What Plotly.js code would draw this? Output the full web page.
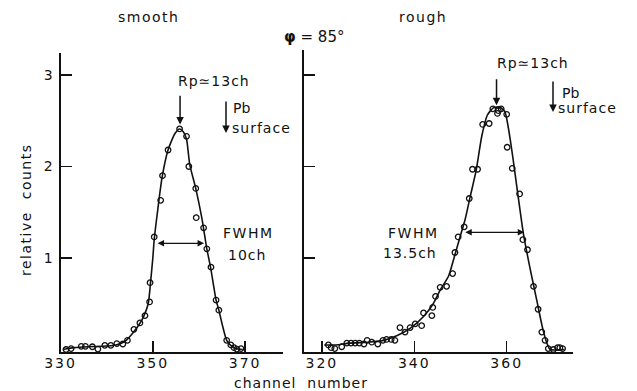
<!DOCTYPE html>
<html>
<head>
<meta charset="utf-8">
<script src="https://cdn.plot.ly/plotly-3.0.1.min.js"></script>
<style>html,body{margin:0;padding:0;background:#fff;}#chart{width:637px;height:391px;}</style>
</head>
<body>
<div id="chart"></div>
<script>
// ---- data ----
// smooth surface: measured points (channel, relative counts)
var smoothCh = [331.2, 332.3, 334.5, 335.4, 336.9, 338.1, 339.6, 340.9, 342.2, 343.5, 344.5, 345.9, 347.2, 348.3, 349.3, 349.4, 350.3, 351.7, 352.1, 353.3, 355.8, 357.3, 357.8, 359.3, 359.4, 361.0, 361.7, 362.6, 363.7, 364.3, 366.0, 366.9, 367.6, 368.2, 369.1];
var smoothCounts = [0.0, 0.01, 0.035, 0.035, 0.03, 0.005, 0.045, 0.045, 0.065, 0.06, 0.1, 0.22, 0.29, 0.37, 0.52, 0.73, 1.23, 1.63, 1.9, 2.18, 2.41, 2.33, 2.0, 1.76, 1.44, 1.33, 1.1, 0.9, 0.54, 0.43, 0.1, 0.05, 0.02, 0.005, 0.01];
// smooth surface: drawn curve
var smoothFitCh = [330.5, 333, 336, 339, 342, 344, 345.5, 347, 348, 349, 349.5, 350, 350.3, 351, 352, 353.3, 354.8, 355.8, 356.6, 357.3, 358, 359.3, 360.6, 361.7, 362.5, 363.7, 364.3, 365, 366, 367, 368, 369.5];
var smoothFitCounts = [0.0, 0.02, 0.03, 0.035, 0.05, 0.09, 0.17, 0.27, 0.36, 0.5, 0.73, 1.0, 1.2, 1.5, 1.88, 2.18, 2.36, 2.41, 2.38, 2.3, 2.02, 1.76, 1.44, 1.1, 0.9, 0.54, 0.43, 0.28, 0.1, 0.04, 0.01, 0.0];

// rough surface: measured points
var roughCh = [321.4, 322.0, 322.8, 324.3, 325.4, 326.3, 327.2, 328.1, 329.1, 329.8, 330.8, 332.1, 333.2, 334.0, 335.0, 335.8, 336.9, 338.0, 339.1, 340.2, 341.6, 342.0, 343.8, 344.0, 344.6, 345.6, 347.0, 348.3, 348.8, 349.5, 350.8, 351.9, 352.6, 353.7, 354.8, 356.2, 357.0, 358.0, 358.2, 358.8, 360.0, 360.1, 361.2, 362.8, 363.5, 364.5, 365.8, 366.8, 367.6, 368.3, 369.0, 370.1, 371.0, 371.5, 372.1];
var roughCounts = [0.05, 0.02, 0.01, 0.03, 0.07, 0.07, 0.07, 0.07, 0.06, 0.1, 0.08, 0.06, 0.1, 0.11, 0.11, 0.1, 0.24, 0.19, 0.24, 0.28, 0.26, 0.4, 0.37, 0.46, 0.58, 0.68, 0.69, 0.83, 1.06, 1.23, 1.34, 1.65, 1.97, 1.97, 2.46, 2.47, 2.63, 2.58, 2.61, 2.63, 2.57, 2.21, 1.98, 1.7, 1.2, 1.09, 0.69, 0.44, 0.19, 0.1, 0.01, 0.0, 0.02, 0.02, 0.01];
// rough surface: drawn curve
var roughFitCh = [320.5, 323, 326, 330, 333.3, 336.2, 339.1, 342, 344.1, 345.6, 347.4, 348.6, 349.9, 351.0, 352.1, 353.4, 354.6, 355.8, 357.1, 358.5, 359.6, 360.3, 361.3, 362.3, 363.6, 365.0, 366.5, 367.7, 368.7, 369.4, 372.5];
var roughFitCounts = [0.05, 0.05, 0.07, 0.08, 0.1, 0.15, 0.23, 0.36, 0.5, 0.65, 0.8, 1.0, 1.23, 1.42, 1.67, 1.96, 2.33, 2.56, 2.64, 2.65, 2.6, 2.44, 2.11, 1.74, 1.27, 0.9, 0.54, 0.25, 0.07, 0.0, 0.0];

// tick labels
var smoothTicks = [330, 350, 370];
var roughTicks = [320, 340, 360];
var countTicks = [1, 2, 3];

// annotation values
var smoothRp = 355.9, roughRp = 357.8;
var smoothFwhm = [350.7, 361.1], smoothFwhmLevel = 1.16;
var roughFwhm = [350.7, 363.8], roughFwhmLevel = 1.28;

// ---- chart ----
var FONT = 'DejaVu Sans, sans-serif';
function sp(t, s) { return '<span style="letter-spacing:' + s + 'px">' + t + '</span>'; }

var marker = {symbol: 'circle-open', size: 5.5, color: '#111', line: {width: 1.3, color: '#111'}};
var traces = [
  {x: smoothFitCh, y: smoothFitCounts, xaxis: 'x', yaxis: 'y', mode: 'lines',
   line: {color: '#111', width: 1.6, shape: 'spline', smoothing: 0.6}, hoverinfo: 'skip'},
  {x: smoothCh, y: smoothCounts, xaxis: 'x', yaxis: 'y', mode: 'markers', marker: marker},
  {x: roughFitCh, y: roughFitCounts, xaxis: 'x2', yaxis: 'y2', mode: 'lines',
   line: {color: '#111', width: 1.6, shape: 'spline', smoothing: 0.6}, hoverinfo: 'skip'},
  {x: roughCh, y: roughCounts, xaxis: 'x2', yaxis: 'y2', mode: 'markers', marker: marker}
];

var W = 637, H = 391;
function px(x) { return x / W; }
function py(y) { return 1 - y / H; }

var axCommon = {
  showgrid: false, zeroline: false, showline: true, linecolor: '#111', linewidth: 2,
  ticks: 'inside', ticklen: 11, tickwidth: 1.5, tickcolor: '#111',
  tickfont: {family: FONT, size: 14, color: '#111'}, fixedrange: true
};

function label(x, y, text, extra) {
  return Object.assign({xref: 'paper', yref: 'paper', x: px(x), y: py(y), xanchor: 'center', yanchor: 'middle',
    text: text, showarrow: false, font: {size: 14}}, extra || {});
}

var layout = {
  width: W, height: H, autosize: false,
  margin: {l: 0, r: 0, t: 0, b: 0},
  paper_bgcolor: '#fff', plot_bgcolor: 'rgba(0,0,0,0)',
  showlegend: false,
  font: {family: FONT, color: '#111'},
  xaxis: Object.assign({}, axCommon, {domain: [px(60.5), px(283)], range: [330, 378.2], anchor: 'y',
    ticklabelstandoff: -3,
    tickmode: 'array', tickvals: smoothTicks, ticktext: smoothTicks.map(function (v) { return sp(v, 2); })}),
  yaxis: Object.assign({}, axCommon, {domain: [py(352), py(53)], range: [-0.0273, 3.24], anchor: 'x',
    ticklabelstandoff: 3,
    tickmode: 'array', tickvals: countTicks, ticktext: countTicks.map(String)}),
  xaxis2: Object.assign({}, axCommon, {domain: [px(304), px(573)], range: [316.13, 374.35], anchor: 'y2',
    ticklabelstandoff: -3,
    tickmode: 'array', tickvals: roughTicks, ticktext: roughTicks.map(function (v) { return sp(v, 2); })}),
  yaxis2: Object.assign({}, axCommon, {domain: [py(352), py(50)], range: [-0.0273, 3.273], anchor: 'x2',
    tickmode: 'array', tickvals: countTicks, showticklabels: false}),
  annotations: [
    // panel titles
    label(148, 17, sp('smooth', 1.5)),
    label(423, 17, sp('rough', 1.5)),
    label(314, 37, '<b>φ</b> = 85°', {font: {size: 15}}),
    // axis titles
    label(26, 210, sp('relative  counts', 1.5), {textangle: -90}),
    label(301, 383, sp('channel  number', 1)),
    // Rp labels and arrows
    label(214, 81, sp('Rp≃13ch', 1)),
    {xref: 'x', yref: 'y', x: smoothRp, y: 2.46, ax: smoothRp, ay: 2.79, axref: 'x', ayref: 'y', text: '',
     showarrow: true, arrowhead: 2, arrowsize: 1, arrowwidth: 1.5, arrowcolor: '#111'},
    label(533, 63, sp('Rp≃13ch', 1)),
    {xref: 'x2', yref: 'y2', x: roughRp, y: 2.67, ax: roughRp, ay: 2.97, axref: 'x2', ayref: 'y2', text: '',
     showarrow: true, arrowhead: 2, arrowsize: 1, arrowwidth: 1.5, arrowcolor: '#111'},
    // Pb surface
    label(231, 108, 'Pb', {xanchor: 'left'}),
    label(230, 128, sp('surface', 1), {xanchor: 'left'}),
    {xref: 'paper', yref: 'paper', x: px(226), y: py(133), ax: px(226), ay: py(100), axref: 'paper', ayref: 'paper', text: '',
     showarrow: true, arrowhead: 2, arrowsize: 1, arrowwidth: 1.5, arrowcolor: '#111'},
    label(560, 93, 'Pb', {xanchor: 'left'}),
    label(556, 108, sp('surface', 1), {xanchor: 'left'}),
    {xref: 'paper', yref: 'paper', x: px(553), y: py(112), ax: px(553), ay: py(80), axref: 'paper', ayref: 'paper', text: '',
     showarrow: true, arrowhead: 2, arrowsize: 1, arrowwidth: 1.5, arrowcolor: '#111'},
    // FWHM
    {xref: 'x', yref: 'y', x: smoothFwhm[1], y: smoothFwhmLevel, ax: smoothFwhm[0], ay: smoothFwhmLevel, axref: 'x', ayref: 'y', text: '',
     showarrow: true, arrowhead: 2, startarrowhead: 2, arrowside: 'end+start', arrowsize: 1, arrowwidth: 1.3, arrowcolor: '#111'},
    label(248, 233, sp('FWHM', 1.5)),
    label(247, 255, sp('10ch', 1)),
    {xref: 'x2', yref: 'y2', x: roughFwhm[1], y: roughFwhmLevel, ax: roughFwhm[0], ay: roughFwhmLevel, axref: 'x2', ayref: 'y2', text: '',
     showarrow: true, arrowhead: 2, startarrowhead: 2, arrowside: 'end+start', arrowsize: 1, arrowwidth: 1.3, arrowcolor: '#111'},
    label(413, 233, sp('FWHM', 1.5)),
    label(410, 253, sp('13.5ch', 1))
  ]
};

Plotly.newPlot('chart', traces, layout, {displayModeBar: false, staticPlot: true});
</script>
</body>
</html>
